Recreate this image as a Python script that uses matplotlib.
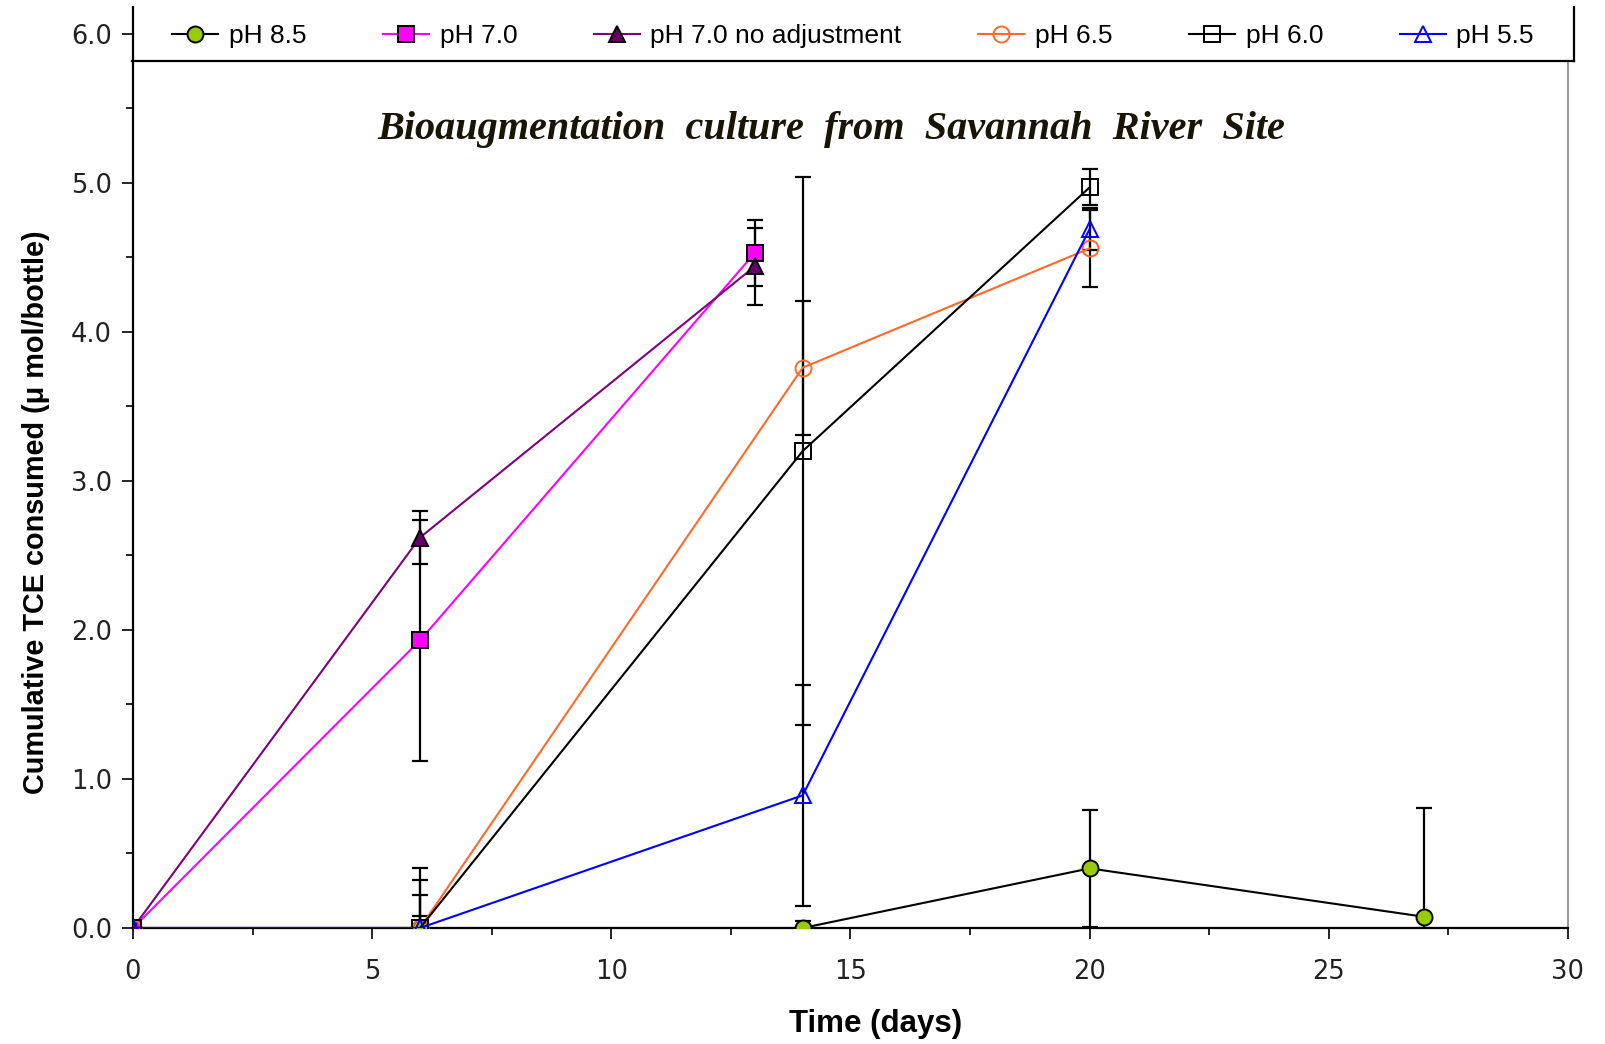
# TCE consumption by the bioaugmentation culture at different pH #

# %% Importing libraries
import matplotlib
matplotlib.use("Agg") # No display in the sandbox
import matplotlib.pyplot as plt
from matplotlib.lines import Line2D
import numpy as np

# %% Data
days_85 = [0, 6, 14, 20, 27]              # pH 8.5
tce_85 = [0.0, 0.0, 0.0, 0.40, 0.075]
err_85 = [0.0, 0.08, 0.05, 0.39, 0.73]

days_70 = [0, 6, 13]                      # pH 7.0
tce_70 = [0.0, 1.93, 4.53]
err_70 = [0.0, 0.81, 0.22]

days_70na = [0, 6, 13]                    # pH 7.0 no adjustment
tce_70na = [0.0, 2.62, 4.44]
err_70na = [0.0, 0.18, 0.26]

days_65 = [0, 6, 14, 20]                  # pH 6.5
tce_65 = [0.0, 0.0, 3.76, 4.56]
err_65 = [0.0, 0.32, 0.45, 0.26]

days_60 = [0, 6, 14, 20]                  # pH 6.0
tce_60 = [0.0, 0.0, 3.20, 4.97]
err_60 = [0.0, 0.40, 1.84, 0.12]

days_55 = [0, 6, 14, 20]                  # pH 5.5
tce_55 = [0.0, 0.0, 0.89, 4.69]
err_55 = [0.0, 0.22, 0.74, 0.14]

series_labels = ["pH 8.5", "pH 7.0", "pH 7.0 no adjustment", "pH 6.5", "pH 6.0", "pH 5.5"]
y_ticks = [0, 1, 2, 3, 4, 5, 6]
x_ticks = [0, 5, 10, 15, 20, 25, 30]

# %% Figure and axes
plt.rcParams["font.family"] = ["Liberation Sans", "DejaVu Sans"]
fig = plt.figure(figsize=(16.06, 10.44), dpi=100)
ax = fig.add_axes([133 / 1606, 1 - 928 / 1044, (1568 - 133) / 1606, (928 - 7) / 1044])

# one entry per series: data, line colour, marker, marker face, marker edge
styles = [
    (days_85, tce_85, err_85, "black", "o", "#99cc00", "black"),
    (days_70, tce_70, err_70, "#ff00ff", "s", "#ff00ff", "black"),
    (days_70na, tce_70na, err_70na, "#800080", "^", "#660066", "black"),
    (days_65, tce_65, err_65, "#ff6a2a", "o", "none", "#ff6a2a"),
    (days_60, tce_60, err_60, "black", "s", "none", "black"),
    (days_55, tce_55, err_55, "#0000ff", "^", "none", "#0000ff"),
]

handles = []
for (x, y, e, col, mk, face, edge), lab in zip(styles, series_labels):
    y = np.array(y)
    e = np.array(e)
    lower = np.minimum(e, y) # error bars stop at the x axis
    ax.errorbar(x, y, yerr=[lower, e], fmt="none", ecolor="black", elinewidth=1.6,
                capsize=6, capthick=1.6, zorder=2)
    h, = ax.plot(x, y, color=col, lw=1.5, marker=mk, markersize=11.5, markerfacecolor=face,
                 markeredgecolor=edge, markeredgewidth=1.4, label=lab, zorder=3)
    handles.append(h)

# %% Axes styling
ax.set_xlim(0, 30)
ax.set_ylim(0, 6.18)
ax.set_xticks(x_ticks)
ax.set_xticks(np.arange(2.5, 30, 5), minor=True)
ax.set_yticks(y_ticks)
ax.set_yticks(np.arange(0.5, 6, 1), minor=True)
ax.set_yticklabels([f"{v:.1f}" for v in y_ticks])
ax.tick_params(axis="both", which="major", direction="out", length=8, width=1.2, labelsize=18.5)
ax.tick_params(axis="both", which="minor", direction="out", length=5, width=1.2)
ax.tick_params(axis="x", pad=14)
ax.tick_params(axis="y", pad=7)
for lab in ax.get_xticklabels() + ax.get_yticklabels():
    lab.set_fontfamily("DejaVu Sans")
    lab.set_color("#222222")

ax.spines["top"].set_visible(False)
ax.spines["left"].set_linewidth(1.6)
ax.spines["bottom"].set_linewidth(1.6)
ax.spines["right"].set_color("#999999")
ax.spines["right"].set_linewidth(1.4)
ax.spines["right"].set_bounds(0, 5.82)

# %% Labels and title
fig.text(36 / 1606, 1 - 512 / 1044, "Cumulative TCE consumed (μ mol/bottle)", rotation=90,
         ha="center", va="center", fontsize=20.8, fontweight="bold")
fig.text(876 / 1606, 1 - 1024 / 1044, "Time (days)", ha="center", va="center",
         fontsize=22.5, fontweight="bold")
fig.text(831 / 1606, 1 - 129 / 1044, "Bioaugmentation  culture  from  Savannah  River  Site",
         ha="center", va="center", fontsize=29, fontweight="bold", fontstyle="italic",
         family="Liberation Serif", color="#1a1405")

# %% Legend across the top, with a box drawn on its bottom and right sides
fig.legend(handles=handles, loc="center left", bbox_to_anchor=(172 / 1606, 1 - 36 / 1044),
           ncol=6, frameon=False, fontsize=19, borderpad=0, borderaxespad=0,
           handlelength=1.75, handletextpad=0.4, columnspacing=2.9)
fig.add_artist(Line2D([132 / 1606, 1574 / 1606], [1 - 61 / 1044, 1 - 61 / 1044],
                      color="black", lw=1.6, transform=fig.transFigure))
fig.add_artist(Line2D([1574 / 1606, 1574 / 1606], [1 - 7 / 1044, 1 - 61 / 1044],
                      color="black", lw=1.6, transform=fig.transFigure))

plt.savefig("out.png", dpi=100)
plt.close()
print("Your output has been created")
